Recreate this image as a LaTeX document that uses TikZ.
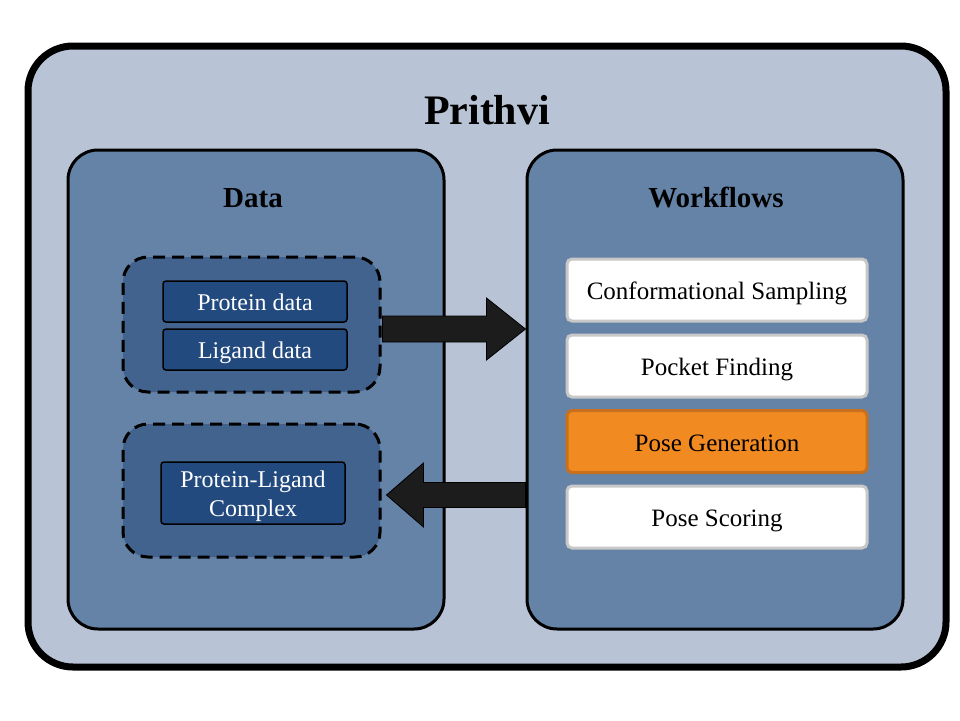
\documentclass[tikz,border=0pt]{standalone}
\usepackage{fontspec}
\setmainfont{Liberation Serif}
\usetikzlibrary{calc}
\definecolor{outerfill}{HTML}{B8C4D6}
\definecolor{panelfill}{HTML}{6582A7}
\definecolor{dashfill}{HTML}{43638F}
\definecolor{innerfill}{HTML}{234A7E}
\definecolor{arrowfill}{HTML}{1C1C1C}
\definecolor{wfborder}{HTML}{C8C8C8}
\definecolor{orangefill}{HTML}{F28A22}
\definecolor{orangeborder}{HTML}{C8701E}
\tikzset{
  outerbox/.style={draw=black, line width=7pt, fill=outerfill, rounded corners=45pt, minimum width=918pt, minimum height=621pt},
  panelbox/.style={draw=black, line width=3pt, fill=panelfill, rounded corners=30pt, minimum width=376pt, minimum height=479pt},
  dashbox/.style={draw=black, line width=3pt, dash pattern=on 12pt off 7pt, fill=dashfill, rounded corners=25pt, minimum width=257pt},
  innerbox/.style={draw=black, line width=1.5pt, fill=innerfill, rounded corners=3pt, minimum width=184pt, text=white, font=\fontsize{24}{29}\selectfont, align=center, inner sep=0pt, text height=23pt, text depth=6pt},
  wfbox/.style={draw=wfborder, line width=3pt, fill=white, rounded corners=5pt, minimum width=300pt, minimum height=62pt, font=\fontsize{25}{29}\selectfont, inner sep=0pt, text height=25pt, text depth=6pt},
  headtext/.style={font=\fontsize{29}{34}\selectfont\bfseries},
  blockarrow/.style={fill=arrowfill, draw=black, line width=0.8pt}
}
\begin{document}
\begin{tikzpicture}[x=1pt,y=-1pt]
\useasboundingbox (0,0) rectangle (960,720);
\fill[white] (0,0) rectangle (960,720);
\node[outerbox] (outer) at (487,356.5) {};
\node[font=\fontsize{42}{48}\selectfont\bfseries] (title) at (487,110) {Prithvi};
\node[panelbox] (data) at (256,389.5) {};
\node[panelbox] (work) at (715,389.5) {};
\node[headtext] (datat) at (253,198) {Data};
\node[headtext] (workt) at (716,198) {Workflows};
\node[dashbox, minimum height=135pt] (dash1) at (251.5,324.5) {};
\node[dashbox, minimum height=133pt] (dash2) at (251.5,490.5) {};
\node[innerbox, minimum height=41pt] (prot) at (255,301.5) {Protein data};
\node[innerbox, minimum height=41pt] (lig) at (255,349.5) {Ligand data};
\node[innerbox, minimum height=62pt, text height=, text depth=] (plc) at (253,493) {};
\node[text=white, font=\fontsize{24}{29}\selectfont, align=center, inner sep=0pt] (plct) at ($(plc.center)+(0,3)$) {Protein-Ligand\\Complex};
\node[wfbox] (cs) at (717,290) {Conformational Sampling};
\node[wfbox] (pf) at (717,366) {Pocket Finding};
\node[wfbox, fill=orangefill, draw=orangeborder] (pg) at (717,441.5) {Pose Generation};
\node[wfbox] (ps) at (717,517) {Pose Scoring};
% arrow data -> workflows
\coordinate (a1s) at ($(dash1.east)+(1,4.5)$);
\coordinate (a1t) at (work.west |- a1s);
\draw[blockarrow] ($(a1s)+(0,-13)$) -- ($(a1t)+(-39,-13)$) -- ($(a1t)+(-39,-31)$) -- (a1t)
  -- ($(a1t)+(-39,31)$) -- ($(a1t)+(-39,13)$) -- ($(a1s)+(0,13)$) -- cycle;
% arrow workflows -> data
\coordinate (a2t) at ($(dash2.east)+(5,4.5)$);
\coordinate (a2s) at (work.west |- a2t);
\draw[blockarrow] ($(a2s)+(0,-12.5)$) -- ($(a2t)+(37,-12.5)$) -- ($(a2t)+(37,-32)$) -- (a2t)
  -- ($(a2t)+(37,32)$) -- ($(a2t)+(37,12.5)$) -- ($(a2s)+(0,12.5)$) -- cycle;
\end{tikzpicture}
\end{document}
